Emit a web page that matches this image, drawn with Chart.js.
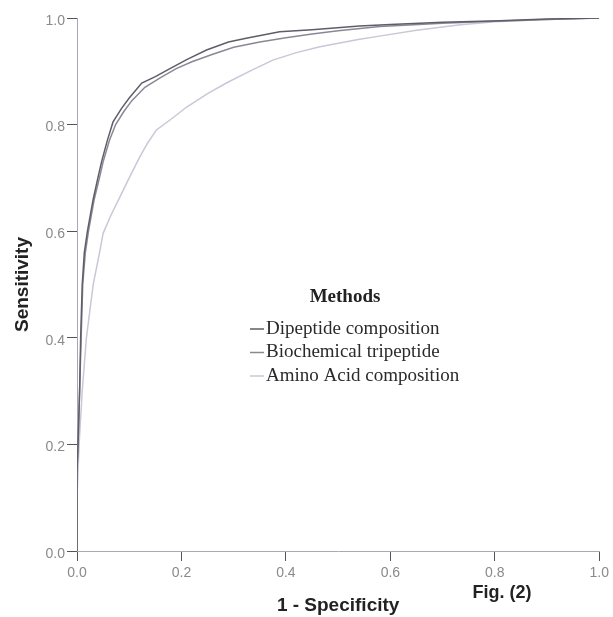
<!DOCTYPE html>
<html>
<head>
<meta charset="utf-8">
<script src="https://cdn.jsdelivr.net/npm/chart.js@4"></script>
<style>
  html, body { margin: 0; padding: 0; background: #ffffff; }
  #wrap { width: 613px; height: 617px; position: relative; }
</style>
</head>
<body>
<div id="wrap"><canvas id="c" width="613" height="617"></canvas></div>
<script>
// ---- data ----
const seriesNames = ["Dipeptide composition", "Biochemical tripeptide", "Amino Acid composition"];

const dipeptideFpr = [0, 0, 0.002, 0.005, 0.007, 0.010, 0.014, 0.020, 0.031, 0.040, 0.047, 0.058, 0.069, 0.085, 0.100, 0.124, 0.150, 0.178, 0.210, 0.248, 0.290, 0.324, 0.388, 0.450, 0.541, 0.600, 0.700, 0.809, 0.900, 1.000];
const dipeptideTpr = [0, 0.15, 0.20, 0.30, 0.40, 0.50, 0.56, 0.60, 0.66, 0.70, 0.73, 0.77, 0.805, 0.83, 0.85, 0.878, 0.89, 0.905, 0.922, 0.940, 0.955, 0.962, 0.974, 0.978, 0.985, 0.988, 0.992, 0.995, 0.998, 1.000];

const biochemFpr = [0, 0, 0.002, 0.005, 0.008, 0.011, 0.016, 0.022, 0.033, 0.043, 0.050, 0.062, 0.074, 0.090, 0.105, 0.130, 0.160, 0.190, 0.220, 0.260, 0.300, 0.350, 0.400, 0.450, 0.500, 0.580, 0.700, 0.800, 0.900, 1.000];
const biochemTpr = [0, 0.15, 0.20, 0.30, 0.40, 0.50, 0.56, 0.60, 0.66, 0.70, 0.73, 0.77, 0.80, 0.825, 0.845, 0.870, 0.888, 0.905, 0.918, 0.932, 0.945, 0.955, 0.963, 0.970, 0.976, 0.984, 0.990, 0.994, 0.997, 1.000];

const aminoFpr = [0, 0, 0.004, 0.010, 0.018, 0.031, 0.044, 0.050, 0.065, 0.082, 0.100, 0.120, 0.135, 0.152, 0.180, 0.210, 0.250, 0.286, 0.330, 0.375, 0.420, 0.465, 0.541, 0.579, 0.650, 0.730, 0.800, 0.900, 1.000];
const aminoTpr = [0, 0.10, 0.20, 0.30, 0.40, 0.50, 0.564, 0.596, 0.63, 0.664, 0.70, 0.739, 0.765, 0.790, 0.810, 0.833, 0.858, 0.878, 0.900, 0.921, 0.935, 0.946, 0.960, 0.966, 0.977, 0.987, 0.993, 0.997, 1.000];

const tickValues = [0.0, 0.2, 0.4, 0.6, 0.8, 1.0];
const xTitle = "1 - Specificity";
const yTitle = "Sensitivity";
const legendTitle = "Methods";
const figLabel = "Fig. (2)";

const seriesColors = ["#5f5e68", "#8a8896", "#cbc6d8"];

function pts(xs, ys) { return xs.map((x, i) => ({ x: x, y: ys[i] })); }

const legendPlugin = {
  id: 'methodsLegend',
  afterDraw(chart) {
    const ctx = chart.ctx;
    ctx.save();
    ctx.fillStyle = '#222222';
    ctx.font = 'bold 19px "Liberation Serif", serif';
    ctx.textAlign = 'center';
    ctx.textBaseline = 'middle';
    ctx.fillText(legendTitle, 345, 297);
    ctx.font = '19px "Liberation Serif", serif';
    ctx.textAlign = 'left';
    chart.data.datasets.forEach((ds, i) => {
      const y = 329 + i * 23.5;
      ctx.strokeStyle = ds.borderColor;
      ctx.lineWidth = 1.5;
      ctx.beginPath();
      ctx.moveTo(250, y);
      ctx.lineTo(264, y);
      ctx.stroke();
      ctx.fillStyle = '#2a2a2a';
      ctx.fillText(ds.label, 266, y);
    });
    ctx.font = 'bold 18px "Liberation Sans", Arial, sans-serif';
    ctx.fillStyle = '#222222';
    ctx.textAlign = 'center';
    ctx.fillText(figLabel, 502, 593);
    ctx.restore();
  }
};

const axisCommon = {
  type: 'linear',
  min: 0,
  max: 1,
  afterBuildTicks(scale) { scale.ticks = tickValues.map(v => ({ value: v })); },
  ticks: {
    color: '#8a8a8a',
    font: { family: '"Liberation Sans", Arial, sans-serif', size: 14 },
    callback: v => Number(v).toFixed(1)
  },
  grid: { drawOnChartArea: false, color: '#555555', tickLength: 10, lineWidth: 1 },
  border: { color: '#aaa6b4', width: 1 }
};

new Chart(document.getElementById('c'), {
  type: 'scatter',
  data: {
    datasets: [
      { label: seriesNames[0], data: pts(dipeptideFpr, dipeptideTpr), borderColor: seriesColors[0] },
      { label: seriesNames[1], data: pts(biochemFpr, biochemTpr), borderColor: seriesColors[1] },
      { label: seriesNames[2], data: pts(aminoFpr, aminoTpr), borderColor: seriesColors[2] }
    ].map(d => Object.assign(d, { showLine: true, pointRadius: 0, borderWidth: 1.5, tension: 0, fill: false }))
  },
  options: {
    responsive: false,
    animation: false,
    layout: { padding: { top: 18, right: 13, left: 0, bottom: 0 } },
    plugins: { legend: { display: false }, tooltip: { enabled: false } },
    scales: {
      x: Object.assign({}, axisCommon, {
        ticks: Object.assign({}, axisCommon.ticks, { padding: 4, maxRotation: 0 }),
        title: { display: true, text: xTitle, color: '#222222', font: { family: '"Liberation Sans", Arial, sans-serif', size: 19, weight: 'bold' }, padding: { top: 0, bottom: 0 } },
        afterFit(scale) { scale.height = 66; }
      }),
      y: Object.assign({}, axisCommon, {
        ticks: Object.assign({}, axisCommon.ticks, { padding: 2, labelOffset: 3 }),
        title: { display: true, text: yTitle, color: '#222222', font: { family: '"Liberation Sans", Arial, sans-serif', size: 19, weight: 'bold' }, padding: { top: 11, bottom: 0 } },
        afterFit(scale) { scale.width = 77; }
      })
    }
  },
  plugins: [legendPlugin]
});
</script>
</body>
</html>
